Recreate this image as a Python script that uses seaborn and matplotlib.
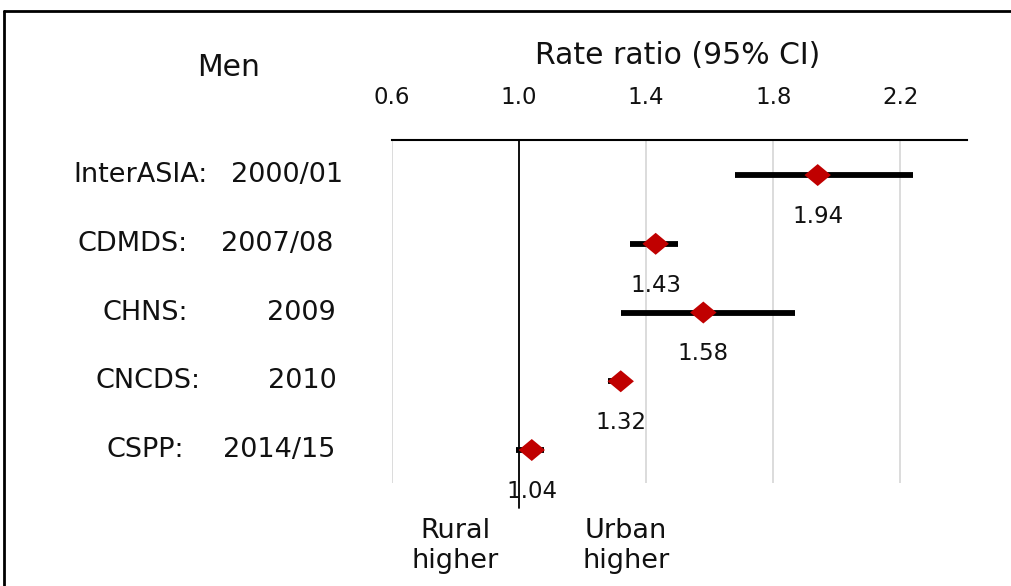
import numpy as np
import matplotlib
matplotlib.use("Agg")
import matplotlib.pyplot as plt
import matplotlib.transforms as mtransforms
from matplotlib.lines import Line2D
import seaborn as sns
import pandas as pd

# ---------------- data ----------------
studies = ["InterASIA:", "CDMDS:", "CHNS:", "CNCDS:", "CSPP:"]
years = ["2000/01", "2007/08", "2009", "2010", "2014/15"]
rate_ratio = [1.94, 1.43, 1.58, 1.32, 1.04]
ci_low = [1.68, 1.35, 1.32, 1.28, 0.99]
ci_high = [2.24, 1.50, 1.87, 1.35, 1.08]
ticks = [0.6, 1.0, 1.4, 1.8, 2.2]

df = pd.DataFrame({"study": studies, "year": years, "rr": rate_ratio,
                   "lo": ci_low, "hi": ci_high, "row": range(len(studies))})

sns.set_style("white")
plt.rcParams["font.family"] = ["DejaVu Sans"]

W, H = 1012, 586
fig = plt.figure(figsize=(W / 100, H / 100), dpi=100)

# axes box in pixel terms
left, right, top, bottom = 392, 967, 140, 483
ax = fig.add_axes([left / W, 1 - bottom / H, (right - left) / W, (bottom - top) / H])

# CI lines
ax.hlines(df["row"], df["lo"], df["hi"], color="black", lw=4.2, zorder=3)

# diamonds (slightly wide like the original)
diamond = [(-1.2, 0), (0, 1), (1.2, 0), (0, -1), (-1.2, 0)]
sns.scatterplot(data=df, x="rr", y="row", marker=diamond, s=19 ** 2,
                color="#C00000", edgecolor="none", linewidth=0, ax=ax, zorder=4)

# value labels below each diamond
for _, r in df.iterrows():
    ax.text(r["rr"], r["row"] + 0.6, f"{r['rr']:.2f}", ha="center", va="center",
            fontsize=16.5, color="#111111", zorder=5)

ax.set_xlim(0.6, 2.41)
ax.set_ylim(4.48, -0.51)
ax.set_xticks(ticks)
ax.set_xticklabels([f"{t:.1f}" for t in ticks])
ax.xaxis.tick_top()
ax.tick_params(axis="x", length=0, pad=22, labelsize=16.5, labelcolor="#111111")
ax.set_yticks([])
ax.set_xlabel("")
ax.set_ylabel("")

ax.grid(axis="x", color="#d9d9d9", lw=1.3)
ax.grid(axis="y", visible=False)
for s in ["left", "right", "bottom"]:
    ax.spines[s].set_visible(False)
ax.spines["top"].set_color("black")
ax.spines["top"].set_linewidth(1.5)

# reference line at 1.0, running below the axes
ax.axvline(1.0, ymin=-0.073, ymax=1, color="black", lw=1.3, clip_on=False, zorder=2)

# study labels
blend = mtransforms.blended_transform_factory(fig.transFigure, ax.transData)
name_cx = [140, 133, 145, 148, 145]
year_rx = [343, 333, 336, 337, 335]
for i, (n, y) in enumerate(zip(studies, years)):
    fig.text(name_cx[i] / W, i, n, transform=blend, ha="center", va="center",
             fontsize=19.5, color="#111111")
    fig.text(year_rx[i] / W, i, y, transform=blend, ha="right", va="center",
             fontsize=19.5, color="#111111")

# headings
fig.text(229 / W, 1 - 68 / H, "Men", ha="center", va="center", fontsize=21.5, color="#111111")
fig.text(678 / W, 1 - 55 / H, "Rate ratio (95% CI)", ha="center", va="center",
         fontsize=21.5, color="#111111")

# direction labels
fig.text(455 / W, 1 - 546 / H, "Rural\nhigher", ha="center", va="center",
         fontsize=19.5, linespacing=1.2, color="#111111")
fig.text(626 / W, 1 - 546 / H, "Urban\nhigher", ha="center", va="center",
         fontsize=19.5, linespacing=1.2, color="#111111")

# outer frame (left and top edges only visible)
fig.add_artist(Line2D([4 / W, 4 / W], [0, 1 - 11 / H], transform=fig.transFigure,
                      color="black", lw=2))
fig.add_artist(Line2D([4 / W, 1], [1 - 11 / H, 1 - 11 / H], transform=fig.transFigure,
                      color="black", lw=2))

fig.savefig("out.png", dpi=100, facecolor="white")
